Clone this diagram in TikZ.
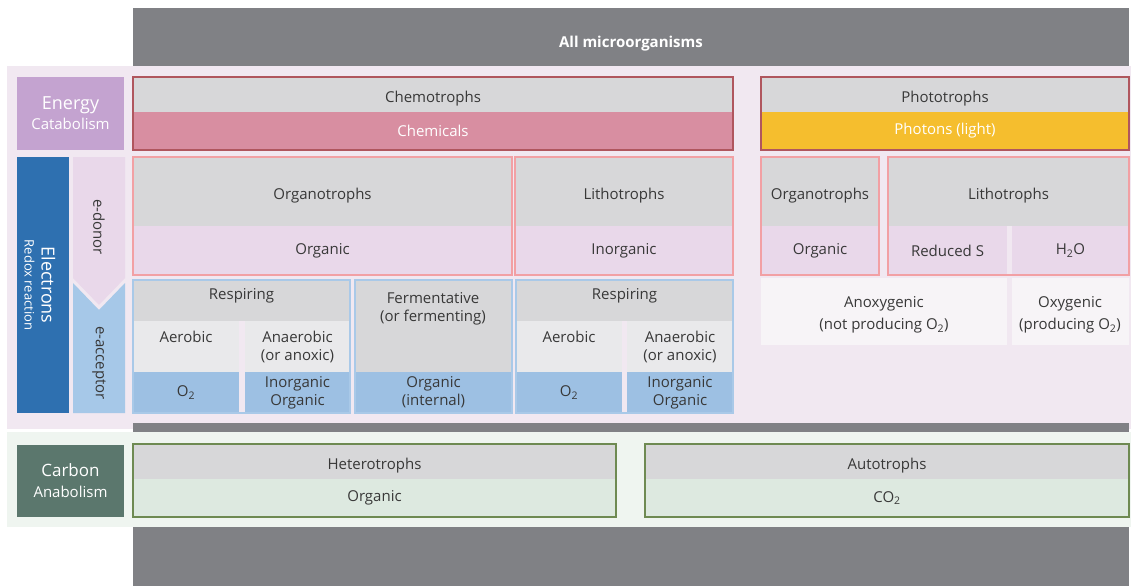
\documentclass[tikz,border=0pt]{standalone}
\usepackage{fontspec}
\setmainfont{Open Sans}
\usetikzlibrary{calc}

\definecolor{topgray}{HTML}{808185}
\definecolor{panelpink}{HTML}{F1E8F1}
\definecolor{panelgreen}{HTML}{EFF5F0}
\definecolor{energy}{HTML}{C4A3D0}
\definecolor{cellgray}{HTML}{D7D7D9}
\definecolor{lightcell}{HTML}{E9E9EB}
\definecolor{chempink}{HTML}{D88EA1}
\definecolor{chemred}{HTML}{B0565E}
\definecolor{photoyellow}{HTML}{F5BE2E}
\definecolor{eblue}{HTML}{2E70B0}
\definecolor{donor}{HTML}{E9D8EA}
\definecolor{acceptor}{HTML}{A6C8E8}
\definecolor{cellblue}{HTML}{9DC0E3}
\definecolor{orgred}{HTML}{F2A0A4}
\definecolor{accblue}{HTML}{A9C9E8}
\definecolor{anox}{HTML}{F7F4F7}
\definecolor{carbon}{HTML}{5B776D}
\definecolor{carbgreen}{HTML}{6E8A52}
\definecolor{greencell}{HTML}{DDE9E0}
\definecolor{txtgray}{HTML}{383838}

\tikzset{
  cellbase/.style={anchor=north west, inner sep=0pt, outer sep=0pt, align=center,
    text=txtgray, font=\fontsize{15}{18}\selectfont},
  txt/.style={inner sep=0pt, align=center, text=txtgray, font=\fontsize{15}{18}\selectfont},
  lowtext/.style={text height=19pt, text depth=4pt},
  hightext/.style={text height=11pt, text depth=13pt},
  redline/.style={draw=chemred, line width=1.4pt},
  pinkline/.style={draw=orgred, line width=1.4pt},
  blueline/.style={draw=accblue, line width=1.4pt},
  greenline/.style={draw=carbgreen, line width=1.4pt},
}
% [options]{name}{x1}{y1}{x2}{y2}{text}, pixel coordinates, y downwards
\newcommand{\mkcell}[7][]{%
  \node[cellbase, minimum width={(#5)-(#3)}, minimum height={(#6)-(#4)}, #1] (#2) at (#3,#4) {#7};}

\begin{document}
\begin{tikzpicture}[x=1pt, y=-1pt]
\useasboundingbox (0,0) rectangle (1134,586);

% gray bands and panels
\mkcell[fill=topgray]{topband}{133}{8}{1129}{66}{}
\node[txt, text=white, font=\bfseries\fontsize{15}{18}\selectfont] (allorg) at (631,44) {All microorganisms};
\mkcell[fill=panelpink]{energypanel}{7}{66}{1131}{429}{}
\mkcell[fill=panelgreen]{carbonpanel}{7}{432}{1131}{527}{}
\mkcell[fill=topgray]{midband}{133}{423}{1129}{432}{}
\mkcell[fill=topgray]{lowband}{133}{527}{1129}{586}{}

% energy row
\mkcell[fill=energy, text=white, font=\fontsize{15}{20}\selectfont]{energy}{17}{77}{124}{150}%
  {{\fontsize{18}{20}\selectfont Energy}\\Catabolism}
\mkcell[fill=cellgray, lowtext]{chemo}{133}{77}{733}{112}{Chemotrophs}
\mkcell[fill=chempink, text=white]{chemi}{133}{112}{733}{150}{Chemicals}
\draw[redline] (chemo.north west) rectangle (chemi.south east);
\mkcell[fill=cellgray, lowtext]{photo}{761}{77}{1129}{112}{Phototrophs}
\mkcell[fill=photoyellow, text=white]{photon}{761}{112}{1129}{150}{Photons (light)}
\draw[redline] (photo.north west) rectangle (photon.south east);

% electrons column
\mkcell[fill=eblue]{elec}{17}{157}{69}{413}{}
\node[txt, text=white, rotate=-90, font=\fontsize{13}{17}\selectfont] (electxt) at (40,285)
  {{\fontsize{18}{17}\selectfont Electrons}\\Redox reaction};
\fill[donor] (73,157) -- (125,157) -- (125,278) -- (99,305) -- (73,278) -- cycle;
\fill[acceptor] (73,283) -- (99,310) -- (125,283) -- (125,413) -- (73,413) -- cycle;
\node[txt, rotate=-90] (edonor) at (99,227) {e-donor};
\node[txt, rotate=-90] (eaccept) at (99,363) {e-acceptor};

% electron donors
\mkcell[fill=cellgray, lowtext]{corgano}{133}{157}{512}{226}{Organotrophs}
\mkcell[fill=donor]{corganic}{133}{226}{512}{275}{Organic}
\draw[pinkline] (corgano.north west) rectangle (corganic.south east);
\mkcell[fill=cellgray, lowtext]{clitho}{515}{157}{733}{226}{Lithotrophs}
\mkcell[fill=donor]{cinorg}{515}{226}{733}{275}{Inorganic}
\draw[pinkline] (clitho.north west) rectangle (cinorg.south east);
\mkcell[fill=cellgray, lowtext]{porgano}{761}{157}{879}{226}{Organotrophs}
\mkcell[fill=donor]{porganic}{761}{226}{879}{275}{Organic}
\draw[pinkline] (porgano.north west) rectangle (porganic.south east);
\mkcell[fill=cellgray, lowtext]{plitho}{888}{157}{1129}{226}{Lithotrophs}
\mkcell[fill=donor]{psulfur}{888}{226}{1007}{275}{Reduced S}
\mkcell[fill=donor]{pwater}{1012}{226}{1129}{275}{H\textsubscript{2}O}
\draw[pinkline] (plitho.north west) rectangle (pwater.south east);
\mkcell[fill=anox]{anoxy}{761}{278}{1007}{345}{}
\node[txt, font=\fontsize{15}{22}\selectfont] (anoxytxt) at (884,315) {Anoxygenic\\(not producing O\textsubscript{2})};
\mkcell[fill=anox]{oxy}{1012}{278}{1129}{345}{}
\node[txt, font=\fontsize{15}{22}\selectfont] (oxytxt) at (1070,315) {Oxygenic\\(producing O\textsubscript{2})};

% electron acceptors
\mkcell[fill=cellgray, hightext]{resporg}{133}{280}{350}{321}{Respiring}
\mkcell[fill=lightcell]{aerorg}{133}{321}{239}{372}{}
\node[txt] (aerorgtxt) at (186,337) {Aerobic};
\mkcell[fill=lightcell]{anaerorg}{245}{321}{350}{372}{Anaerobic\\(or anoxic)}
\mkcell[fill=cellblue]{oxorg}{133}{372}{239}{413}{O\textsubscript{2}}
\mkcell[fill=cellblue]{inorgorg}{245}{372}{350}{413}{Inorganic\\Organic}
\draw[blueline] (resporg.north west) rectangle (inorgorg.south east);

\mkcell[fill=cellgray]{ferm}{355}{280}{512}{372}{}
\node[txt] (fermtxt) at (433,309) {Fermentative\\(or fermenting)};
\mkcell[fill=cellblue]{fermorg}{355}{372}{512}{413}{Organic\\(internal)}
\draw[blueline] (ferm.north west) rectangle (fermorg.south east);

\mkcell[fill=cellgray, hightext]{resplit}{516}{280}{733}{321}{Respiring}
\mkcell[fill=lightcell]{aerlit}{516}{321}{622}{372}{}
\node[txt] (aerlittxt) at (569,337) {Aerobic};
\mkcell[fill=lightcell]{anaerlit}{627}{321}{733}{372}{Anaerobic\\(or anoxic)}
\mkcell[fill=cellblue]{oxlit}{516}{372}{622}{413}{O\textsubscript{2}}
\mkcell[fill=cellblue]{inorglit}{627}{372}{733}{413}{Inorganic\\Organic}
\draw[blueline] (resplit.north west) rectangle (inorglit.south east);

% carbon row
\mkcell[fill=carbon, text=white, font=\fontsize{15}{21}\selectfont]{carbon}{17}{445}{124}{517}%
  {{\fontsize{17}{21}\selectfont Carbon}\\Anabolism}
\mkcell[fill=cellgray, lowtext]{hetero}{133}{444}{616}{479}{Heterotrophs}
\mkcell[fill=greencell]{hetorg}{133}{479}{616}{517}{Organic}
\draw[greenline] (hetero.north west) rectangle (hetorg.south east);
\mkcell[fill=cellgray, lowtext]{auto}{645}{444}{1129}{479}{Autotrophs}
\mkcell[fill=greencell]{autoco}{645}{479}{1129}{517}{CO\textsubscript{2}}
\draw[greenline] (auto.north west) rectangle (autoco.south east);
\end{tikzpicture}
\end{document}
